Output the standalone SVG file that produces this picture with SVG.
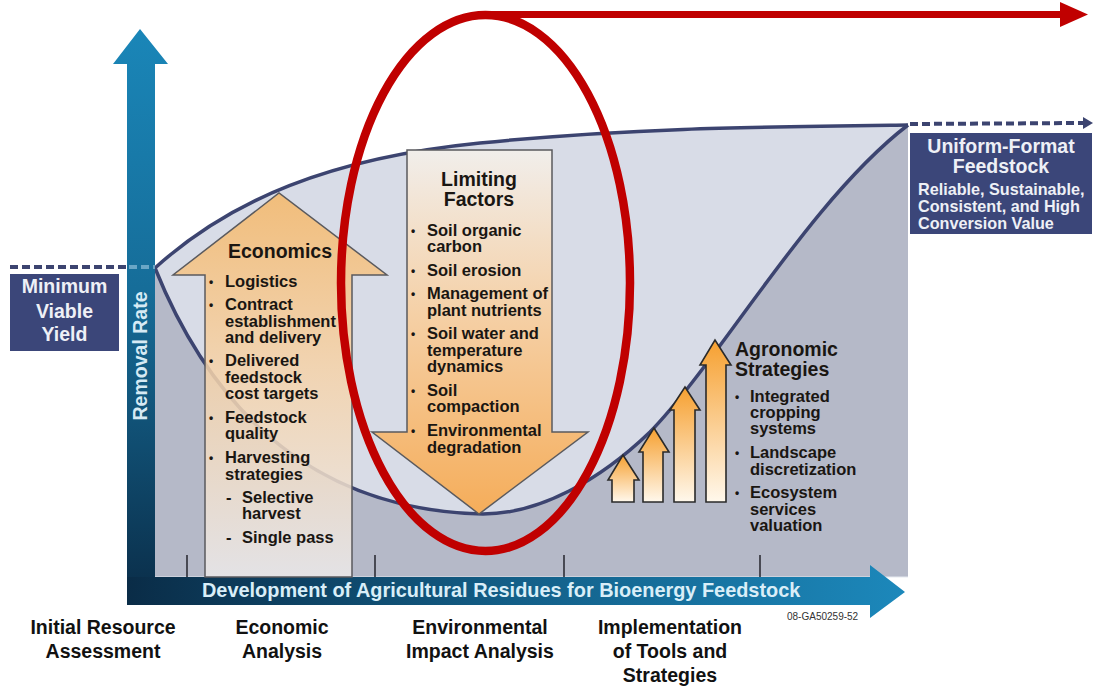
<svg xmlns="http://www.w3.org/2000/svg" width="1093" height="686" viewBox="0 0 1093 686">
  <defs>
    <linearGradient id="gAxisV" gradientUnits="userSpaceOnUse" x1="0" y1="29" x2="0" y2="605">
      <stop offset="0" stop-color="#1a86b8"/>
      <stop offset="0.45" stop-color="#166d99"/>
      <stop offset="1" stop-color="#0a2c47"/>
    </linearGradient>
    <linearGradient id="gAxisH" gradientUnits="userSpaceOnUse" x1="127" y1="0" x2="905" y2="0">
      <stop offset="0" stop-color="#0a2c47"/>
      <stop offset="0.5" stop-color="#135f88"/>
      <stop offset="1" stop-color="#1c88bb"/>
    </linearGradient>
    <linearGradient id="gUp" gradientUnits="userSpaceOnUse" x1="0" y1="193" x2="0" y2="577">
      <stop offset="0" stop-color="#f5b869"/>
      <stop offset="0.45" stop-color="#f5d2a8"/>
      <stop offset="1" stop-color="#ebe9ea"/>
    </linearGradient>
    <linearGradient id="gDown" gradientUnits="userSpaceOnUse" x1="0" y1="150" x2="0" y2="514">
      <stop offset="0" stop-color="#f1eeeb"/>
      <stop offset="0.45" stop-color="#f5d0a6"/>
      <stop offset="1" stop-color="#f5ad5a"/>
    </linearGradient>
    <linearGradient id="gSmall" x1="0" y1="0" x2="0" y2="1">
      <stop offset="0" stop-color="#f6a030"/>
      <stop offset="1" stop-color="#fff8ec"/>
    </linearGradient>
    <marker id="navyHead" viewBox="0 0 10 12" refX="0" refY="6" markerWidth="10" markerHeight="12" markerUnits="userSpaceOnUse" orient="auto">
      <path d="M0,0 L10,6 L0,12 Z" fill="#3c4470"/>
    </marker>
    <style>
      text { font-family: "Liberation Sans", Arial, sans-serif; font-weight: bold; }
      .title { font-size: 19.5px; fill: #1a1612; }
      .item { font-size: 16.5px; fill: #1a1612; }
      .bul { font-size: 12px; fill: #1a1612; }
      .stage { font-size: 19.5px; fill: #111111; text-anchor: middle; }
      .boxTitle { font-size: 19.5px; fill: #eef0f6; text-anchor: middle; }
      .boxSub { font-size: 16.2px; fill: #eef0f6; }
      .curve { fill: none; stroke: #3c4470; stroke-width: 3.5; }
      .tick { stroke: #2e2e36; stroke-width: 1.6; }
      .navyBox { fill: #3b4679; }
      .smallArrow { fill: url(#gSmall); stroke: #2a2a2a; stroke-width: 1.6; stroke-linejoin: miter; }
    </style>
  </defs>

  <rect width="1093" height="686" fill="#ffffff"/>

  <!-- chart field: light band under the upper curve, grey under the lower curve -->
  <g id="field">
    <path d="M155,268 C230,200 330,158 480,143 C630,128 750,127 908,125 L908,577 L155,577 Z" fill="#d8dce7"/>
    <path d="M155,268 C200,380 290,510 483,514 C540,514 600,480 650,432 C720,360 810,200 908,125 L908,577 L155,577 Z" fill="#b5b9c8"/>
    <line x1="155" y1="577" x2="908" y2="577" stroke="#e6eaf0" stroke-width="1.2"/>
    <line class="tick" x1="187" y1="555" x2="187" y2="577"/>
    <line class="tick" x1="375" y1="555" x2="375" y2="577"/>
    <line class="tick" x1="564" y1="555" x2="564" y2="577"/>
    <line class="tick" x1="760" y1="555" x2="760" y2="577"/>
  </g>

  <!-- boundary curves -->
  <g id="curves">
    <path class="curve" d="M155,268 C230,200 330,158 480,143 C630,128 750,127 908,125"/>
    <path class="curve" d="M155,268 C200,380 290,510 483,514 C540,514 600,480 650,432 C720,360 810,200 908,125"/>
  </g>

  <!-- axes -->
  <g id="axis-y">
    <path d="M127,64 L113,64 L140,29 L168,64 L155,64 L155,605 L127,605 Z" fill="url(#gAxisV)"/>
    <text transform="translate(147,356) rotate(-90)" text-anchor="middle" font-size="19.5" fill="#d6eaf4">Removal Rate</text>
  </g>
  <g id="axis-x">
    <path d="M127,577 L870,577 L870,565 L905,592 L870,618 L870,605 L127,605 Z" fill="url(#gAxisH)"/>
    <text x="202" y="597" font-size="19.9" fill="#d9eef8">Development of Agricultural Residues for Bioenergy Feedstock</text>
    <text x="787" y="620" font-size="10" fill="#333333" style="font-weight:normal">08-GA50259-52</text>
  </g>

  <!-- Economics (upward arrow) -->
  <g id="economics">
    <path d="M205,577 L205,275 L173,275 L279,193 L387,275 L352,275 L352,577 Z" fill="url(#gUp)" fill-opacity="0.86" stroke="#5a5a5e" stroke-width="1.5"/>
    <text class="title" x="280" y="258" text-anchor="middle">Economics</text>
    <g class="bul">
      <text x="209" y="286">•</text>
      <text x="209" y="309">•</text>
      <text x="209" y="365">•</text>
      <text x="209" y="422">•</text>
      <text x="209" y="462">•</text>
    </g>
    <g class="item">
      <text x="225" y="287">Logistics</text>
      <text x="225" y="310">Contract</text>
      <text x="225" y="327">establishment</text>
      <text x="225" y="343">and delivery</text>
      <text x="225" y="366">Delivered</text>
      <text x="225" y="383">feedstock</text>
      <text x="225" y="399">cost targets</text>
      <text x="225" y="423">Feedstock</text>
      <text x="225" y="439">quality</text>
      <text x="225" y="463">Harvesting</text>
      <text x="225" y="480">strategies</text>
      <text x="226" y="503">-</text>
      <text x="242" y="503">Selective</text>
      <text x="242" y="519">harvest</text>
      <text x="226" y="543">-</text>
      <text x="242" y="543">Single pass</text>
    </g>
  </g>

  <!-- Limiting Factors (downward arrow) -->
  <g id="limiting-factors">
    <path d="M407,150 L552,150 L552,432 L588,432 L479,514 L372,432 L407,432 Z" fill="url(#gDown)" stroke="#5a5a5e" stroke-width="1.5"/>
    <text class="title" x="479" y="186" text-anchor="middle">Limiting</text>
    <text class="title" x="479" y="206" text-anchor="middle">Factors</text>
    <g class="bul">
      <text x="411" y="235">•</text>
      <text x="411" y="275">•</text>
      <text x="411" y="298">•</text>
      <text x="411" y="338">•</text>
      <text x="411" y="395">•</text>
      <text x="411" y="435">•</text>
    </g>
    <g class="item">
      <text x="427" y="236">Soil organic</text>
      <text x="427" y="252">carbon</text>
      <text x="427" y="276">Soil erosion</text>
      <text x="427" y="299">Management of</text>
      <text x="427" y="316">plant nutrients</text>
      <text x="427" y="339">Soil water and</text>
      <text x="427" y="356">temperature</text>
      <text x="427" y="372">dynamics</text>
      <text x="427" y="396">Soil</text>
      <text x="427" y="412">compaction</text>
      <text x="427" y="436">Environmental</text>
      <text x="427" y="453">degradation</text>
    </g>
  </g>

  <!-- Agronomic Strategies with rising arrows -->
  <g id="agronomic-strategies">
    <path class="smallArrow" d="M612,502 L612,480 L608,480 L623,455 L639,480 L634,480 L634,502 Z"/>
    <path class="smallArrow" d="M643,502 L643,452 L639,452 L654,428 L669,452 L663,452 L663,502 Z"/>
    <path class="smallArrow" d="M674,502 L674,410 L670,410 L685,387 L700,410 L695,410 L695,502 Z"/>
    <path class="smallArrow" d="M706,502 L706,365 L700,365 L715,340 L731,365 L726,365 L726,502 Z"/>
    <text class="title" x="735" y="356">Agronomic</text>
    <text class="title" x="735" y="376">Strategies</text>
    <g class="bul">
      <text x="735" y="401">•</text>
      <text x="735" y="457">•</text>
      <text x="735" y="497">•</text>
    </g>
    <g class="item">
      <text x="750" y="402">Integrated</text>
      <text x="750" y="418">cropping</text>
      <text x="750" y="434">systems</text>
      <text x="750" y="458">Landscape</text>
      <text x="750" y="475">discretization</text>
      <text x="750" y="498">Ecosystem</text>
      <text x="750" y="515">services</text>
      <text x="750" y="531">valuation</text>
    </g>
  </g>

  <!-- end-point boxes -->
  <g id="minimum-viable-yield">
    <rect class="navyBox" x="10" y="274" width="109" height="77"/>
    <text class="boxTitle" x="64.5" y="293">Minimum</text>
    <text class="boxTitle" x="64.5" y="318">Viable</text>
    <text class="boxTitle" x="64.5" y="341">Yield</text>
  </g>
  <g id="uniform-format-feedstock">
    <rect class="navyBox" x="910" y="133" width="182" height="101"/>
    <text class="boxTitle" x="1001" y="153">Uniform-Format</text>
    <text class="boxTitle" x="1001" y="173">Feedstock</text>
    <text class="boxSub" x="918" y="195">Reliable, Sustainable,</text>
    <text class="boxSub" x="918" y="212">Consistent, and High</text>
    <text class="boxSub" x="918" y="229">Conversion Value</text>
  </g>

  <!-- stage labels along the horizontal axis -->
  <g id="stage-labels">
    <text class="stage" x="103" y="634">Initial Resource</text>
    <text class="stage" x="103" y="658">Assessment</text>
    <text class="stage" x="282" y="634">Economic</text>
    <text class="stage" x="282" y="658">Analysis</text>
    <text class="stage" x="480" y="634">Environmental</text>
    <text class="stage" x="480" y="658">Impact Analysis</text>
    <text class="stage" x="670" y="634">Implementation</text>
    <text class="stage" x="670" y="658">of Tools and</text>
    <text class="stage" x="670" y="682">Strategies</text>
  </g>

  <!-- connectors -->
  <g id="connectors">
    <line x1="10" y1="267" x2="127" y2="267" stroke="#3c4470" stroke-width="4" stroke-dasharray="8,4"/>
    <line x1="129" y1="267" x2="155" y2="267" stroke="#6aa6c6" stroke-width="4" stroke-dasharray="8,4"/>
    <line x1="910" y1="124" x2="1083" y2="123" stroke="#3c4470" stroke-width="4" stroke-dasharray="8,4" marker-end="url(#navyHead)"/>
    <ellipse cx="485.5" cy="283" rx="144.5" ry="268" fill="none" stroke="#c00000" stroke-width="8.5"/>
    <line x1="486" y1="14.5" x2="1062" y2="14.5" stroke="#c00000" stroke-width="7"/>
    <path d="M1060,2 L1088,14.5 L1060,27 Z" fill="#c00000"/>
  </g>
</svg>
